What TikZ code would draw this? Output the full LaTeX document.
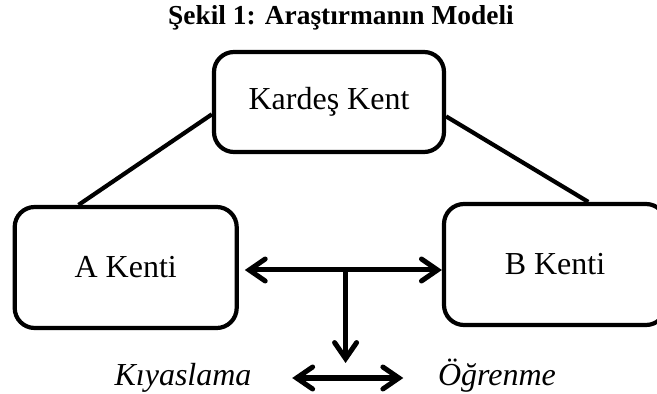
\documentclass[tikz,border=0pt]{standalone}
\usepackage{fontspec}
\setmainfont{Liberation Serif}
\usetikzlibrary{arrows.meta}

\begin{document}
\begin{tikzpicture}[x=0.5pt,y=-0.5pt]
        \tikzstyle{every path}=[line width=2.1pt]

        \tikzstyle{city}=[draw,rounded corners=10pt,minimum width=111pt,minimum height=60.5pt,font=\fontsize{16}{19}\selectfont]
        \tikzstyle{topcity}=[city,minimum width=115pt,minimum height=50pt]
        \tikzstyle{result}=[font=\fontsize{16}{19}\selectfont\itshape,text height=11pt,text depth=3.5pt]
        \tikzstyle{dbl}=[line width=2.5pt,{Straight Barb[length=8pt,width=11pt,line cap=round]}-{Straight Barb[length=8pt,width=11pt,line cap=round]}]
        \tikzstyle{sgl}=[line width=2.5pt,-{Straight Barb[length=8pt,width=11pt,line cap=round]}]

        \useasboundingbox (0,0) rectangle (657,394);

        \node[font=\fontsize{13.7}{16}\selectfont\bfseries] (title) at (341,18) {Şekil 1: Araştırmanın Modeli};

        \node[topcity] (kardes) at (329,102) {Kardeş Kent};
        \node[city] (akent) at (125.7,267.5) {A Kenti};
        \node[city] (bkent) at (555,264.5) {B Kenti};

        \node[result] (kiyas) at (183,378) {Kıyaslama};
        \node[result] (ogren) at (497,378) {Öğrenme};

        \coordinate (hub) at (345.6,270);
        \coordinate (tip) at (345.6,363);

        \draw (kardes.186) -- (akent.127);   % kardes -> A
        \draw (kardes.353) -- (bkent.62);    % kardes -> B
        \draw[dbl,shorten <=3pt] (hub -| akent.east) -- (hub -| bkent.west);   % A <-> B
        \draw[sgl] (hub) -- (tip);           % hub -> bottom
        \draw[dbl] ([xshift=16pt]kiyas.east) -- ([xshift=-13pt]ogren.west);   % kiyas <-> ogren
\end{tikzpicture}
\end{document}
